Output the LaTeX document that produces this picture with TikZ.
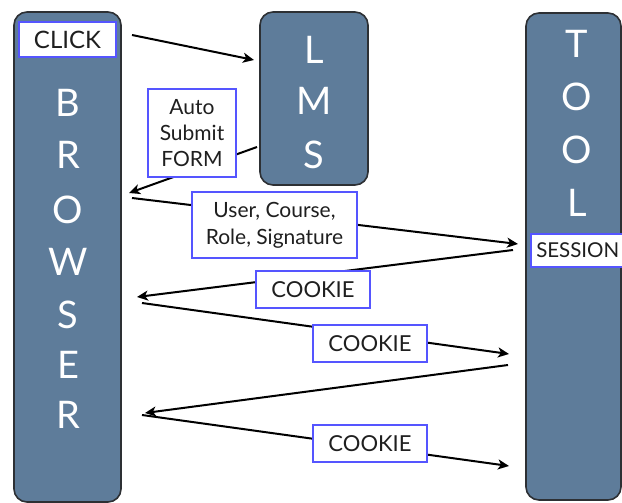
\documentclass[tikz,border=0pt]{standalone}
\usepackage{fontspec}
\setmainfont{Lato}
\usetikzlibrary{arrows.meta}
\definecolor{slate}{RGB}{94,124,154}
\definecolor{slateedge}{RGB}{45,48,52}
\definecolor{tagblue}{RGB}{85,85,255}
\tikzset{
  actor/.style={draw=slateedge, line width=1.6pt, fill=slate, rounded corners=13pt},
  bigletter/.style={text=white, font=\fontsize{38}{38}\selectfont, inner sep=0pt},
  tag/.style={draw=tagblue, line width=1.5pt, fill=white, inner sep=0pt, align=center,
              text=black!88, font=\fontsize{21}{27}\selectfont},
  cookie/.style={tag, minimum width=114pt, minimum height=37pt, font=\fontsize{22}{22}\selectfont},
  msg/.style={draw=black, line width=2pt, -{Stealth[length=11pt,width=10pt,inset=3pt]}},
}
\begin{document}
\begin{tikzpicture}[x=1pt,y=-1pt]
\useasboundingbox (0,0) rectangle (622,503);

% the three parties
\draw[actor] (14,12) rectangle (121,502);
\draw[actor] (260,12) rectangle (368,185);
\draw[actor] (526,13) rectangle (621,500);

% letters of BROWSER
\foreach \ch/\yy [count=\i] in {B/103,R/155,O/210,W/262,S/315,E/365,R/415}
  \node[bigletter] (br\i) at (68,\yy) {\ch};
% letters of LMS
\foreach \ch/\yy [count=\i] in {L/50,M/101,S/155}
  \node[bigletter] (lm\i) at (314,\yy) {\ch};
% letters of TOOL
\foreach \ch/\yy [count=\i] in {T/44,O/97,O/150,L/203}
  \node[bigletter] (to\i) at (577,\yy) {\ch};

% fixed tags on the parties
\node[tag, minimum width=97pt, minimum height=35pt, font=\fontsize{24}{24}\selectfont] (click) at (67.5,39.5) {CLICK};
\node[tag, minimum width=94pt, minimum height=33pt, font=\fontsize{20.5}{20.5}\selectfont, anchor=west] (session) at (530,250.5) {SESSION};

% end points of the messages
\coordinate (c1s) at (132,35);   \coordinate (c1e) at (254,60);
\coordinate (c2s) at (257,147);  \coordinate (c2e) at (129,193);
\coordinate (c3s) at (132,198);  \coordinate (c3e) at (518,244);
\coordinate (c4s) at (513,250);  \coordinate (c4e) at (137,297);
\coordinate (c5s) at (142,303);  \coordinate (c5e) at (509,354);
\coordinate (c6s) at (508,365);  \coordinate (c6e) at (145,413);
\coordinate (c7s) at (142,415);  \coordinate (c7e) at (509,466);

% messages
\draw[msg] (c1s) -- (c1e);
\draw[msg] (c2s) -- (c2e);
\draw[msg] (c3s) -- (c3e);
\draw[msg] (c4s) -- (c4e);
\draw[msg] (c5s) -- (c5e);
\draw[msg] (c6s) -- (c6e);
\draw[msg] (c7s) -- (c7e);

% labels riding on the messages
\node[tag, minimum width=88pt, minimum height=88pt, font=\fontsize{21}{26}\selectfont] (form) at (192,133) {Auto\\Submit\\FORM};
\node[tag, minimum width=165pt, minimum height=66pt] (ucrs) at (274.5,225) {User, Course,\\Role, Signature};
\node[cookie] (ck1) at (313,289.5) {COOKIE};
\node[cookie] (ck2) at (370,343.5) {COOKIE};
\node[cookie] (ck3) at (370,443.5) {COOKIE};
\end{tikzpicture}
\end{document}
